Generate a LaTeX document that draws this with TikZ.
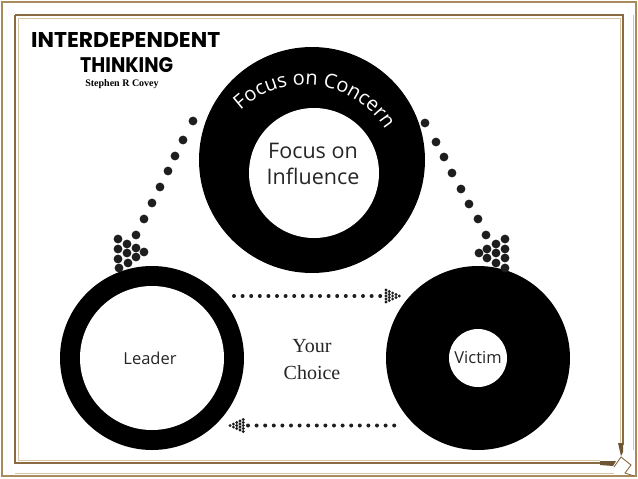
\documentclass[tikz,border=0pt]{standalone}
\usepackage{fontspec}
\usepackage{graphicx}
\setmainfont{Liberation Serif}
\newfontfamily\sansf{Open Sans}
\newfontfamily\titlef{Poppins}
\usetikzlibrary{decorations.text}
\definecolor{frameA}{HTML}{A88A5C}
\definecolor{frameB}{HTML}{8A6A40}
\definecolor{frameC}{HTML}{D8C4A0}
\definecolor{dotc}{HTML}{1E1E1E}
\tikzset{
  ring/.style={circle, fill=black, inner sep=0pt},
  hole/.style={circle, fill=white, inner sep=0pt},
  lbl/.style={inner sep=0pt, text=black!85},
}
\begin{document}
\begin{tikzpicture}[x=1pt,y=-1pt]
\useasboundingbox (0,0) rectangle (638,479);
\fill[white] (0,0) rectangle (638,479);
% frame
\draw[frameA, line width=2pt] (2,2) rectangle (636,476);
\draw[frameB, line width=2.4pt] (15,15) -- (623,15) -- (623,445);
\draw[frameB, line width=2.4pt] (15,15) -- (15,463) -- (602,463);
\draw[frameC, line width=0.8pt] (18,18) -- (620,18) -- (620,446);
\draw[frameC, line width=0.8pt] (18,18) -- (18,460) -- (600,460);
\draw[frameC, line width=0.8pt] (15,473) -- (614,473);
\draw[frameC, line width=0.8pt] (633,15) -- (633,450);
\fill[frameB!80!black] (600,461) -- (616,461) -- (613,466) -- (600,465) -- cycle;
\fill[frameB!80!black] (618,443) -- (623,443) -- (623,452) -- (621,456) -- cycle;
\draw[frameB, line width=0.9pt] (614,467) -- (621,457) -- (631,465) -- (625,473) -- (634,476);
% title
\node[inner sep=0pt, anchor=north west] (t1) at (31,32) {\resizebox{189pt}{15pt}{\titlef\bfseries INTERDEPENDENT}};
\node[inner sep=0pt, anchor=north west] (t2) at (80,57) {\resizebox{93pt}{15pt}{\titlef\bfseries THINKING}};
\node[inner sep=0pt] (author) at (122,84) {\fontsize{10}{12}\selectfont\bfseries Stephen R Covey};
% top ring
\node[ring, minimum size=226pt] (concern) at (312,160) {};
\node[hole, minimum size=130pt] (influence) at (314,173) {};
\node[lbl, align=center, font=\sansf\fontsize{21.5}{25.5}\selectfont] (inftext) at (313,164) {Focus on\\Influence};
\path[decorate, decoration={text along path, text align=center,
  text={|\sansf\fontsize{20}{22}\selectfont\color{white}|Focus on Concern}}]
  (232.2,118.9) arc[start angle=140, end angle=25, radius=95pt];
% bottom rings
\node[ring, minimum size=184pt] (leaderring) at (152,358) {};
\node[hole, minimum size=144pt] (leaderhole) at (152,358) {};
\node[lbl, font=\sansf\fontsize{16.5}{20}\selectfont] (leader) at (150,358) {Leader};
\node[ring, minimum size=184pt] (victimring) at (478,358) {};
\node[hole, minimum size=58pt] (victimhole) at (478,358) {};
\node[lbl, font=\sansf\fontsize{16.5}{20}\selectfont] (victim) at (478,358) {Victim};
% your choice
\node[lbl, align=center, font=\fontsize{20}{27}\selectfont] (choice) at (312,360) {Your\\Choice};
% diagonal big dots
\foreach \p in {(193,121),(183,140),(175,156),(168,171),(160,187),(152,203),(144,219),(136,235),
  (118,239),(118,249),(118,259),(119,268),(127,244),(127,253),(128,263),(136,248),(136,257),(144,252)}
  \fill[dotc] \p circle[radius=4.4pt];
\foreach \p in {(425,123),(436,142),(444,157),(452,173),(461,189),(469,204),(478,219),(486,235),
  (505,239),(505,249),(505,258),(505,268),(496,244),(496,253),(496,263),(487,249),(487,258),(479,253)}
  \fill[dotc] \p circle[radius=4.4pt];
% horizontal dotted arrows
\foreach \i in {0,...,17} \fill[dotc] (234+8.6*\i,296) circle[radius=2pt];
\foreach \c/\n in {0/5,1/4,2/3,3/2,4/1}
  \foreach \k in {1,...,\n}
    \fill[dotc] (386+3.3*\c, {296+3*(\k-(\n+1)/2)}) circle[radius=1.6pt];
\foreach \i in {0,...,17} \fill[dotc] (248+8.6*\i,425.5) circle[radius=2pt];
\foreach \c/\n in {0/5,1/4,2/3,3/2,4/1}
  \foreach \k in {1,...,\n}
    \fill[dotc] (243.3-3.3*\c, {425.5+3*(\k-(\n+1)/2)}) circle[radius=1.6pt];
\end{tikzpicture}
\end{document}
